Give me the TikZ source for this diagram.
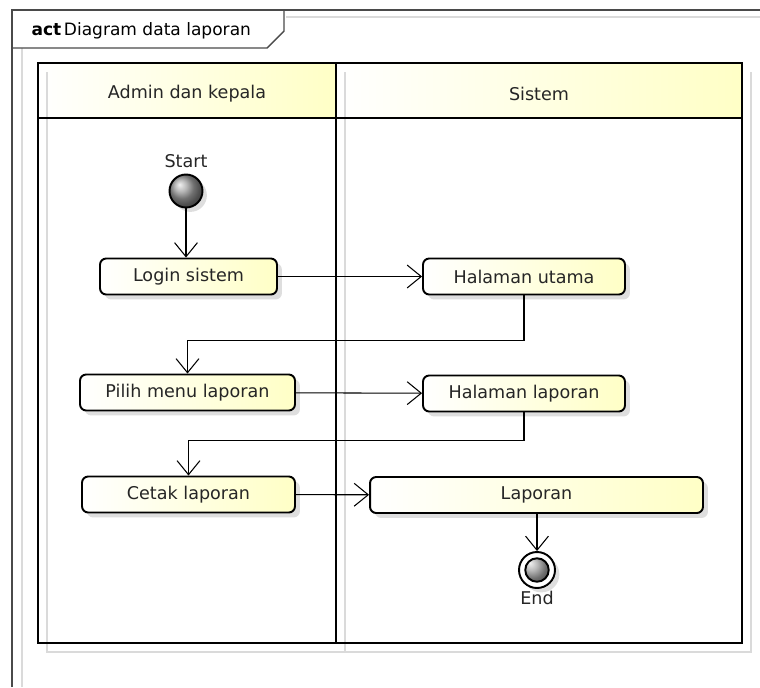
\documentclass[tikz,border=0pt]{standalone}
\usepackage{fontspec}
\setmainfont{DejaVu Sans}
\usepackage{tikz}
\usetikzlibrary{positioning,arrows.meta,shadows,shapes}

\definecolor{umlYellow}{HTML}{FFFFC6}
\definecolor{frameGray}{HTML}{4A4A4A}
\definecolor{shadowGray}{HTML}{DADADA}
\definecolor{textGray}{HTML}{262626}

\begin{document}
\begin{tikzpicture}[x=0.02cm, y=-0.02cm, line width=0.6pt, >={Straight Barb[length=8pt,width=13pt]},
    action/.style={draw, line width=1.1pt, rounded corners=3.5pt, minimum height=0.72cm,
        left color=white, right color=umlYellow, text=textGray,
        font=\fontsize{10}{12}\selectfont,
        drop shadow={shadow xshift=2.8pt, shadow yshift=-2.8pt, fill=black, opacity=0.13}},
    laneHead/.style={inner sep=0pt, text=textGray, font=\fontsize{10}{12}\selectfont},
    laneLine/.style={line width=1.5pt},
    laneShadow/.style={draw=shadowGray, line width=1.2pt},
    flow/.style={->, line width=0.6pt},
    startStyle/.style={circle, draw, line width=1.1pt, minimum size=0.66cm, inner sep=0pt,
        ball color=gray!75,
        drop shadow={shadow xshift=2.5pt, shadow yshift=-2.5pt, fill=black, opacity=0.13}},
    endStyle/.style={circle, draw, line width=1.1pt, minimum size=0.72cm, inner sep=0pt, fill=white,
        path picture={\shade[ball color=gray!75] (path picture bounding box.center) circle (0.235cm);
            \draw[line width=1.1pt] (path picture bounding box.center) circle (0.235cm);},
        drop shadow={shadow xshift=2.5pt, shadow yshift=-2.5pt, fill=black, opacity=0.13}},
    textLabel/.style={text=textGray, font=\fontsize{10}{12}\selectfont, inner sep=1pt}
]
    \useasboundingbox (0,0) rectangle (760,687);

    % frame
    \draw[shadowGray, line width=0.8pt] (22,687) -- (22,48);
    \draw[shadowGray, line width=0.8pt] (286,17) -- (760,17);
    \draw[frameGray, line width=0.8pt] (12,687) -- (12,10) -- (760,10);
    \draw[frameGray, line width=0.8pt] (12,48) -- (267,48) -- (284,31) -- (284,10);
    \node[anchor=west, text=black, font=\fontsize{9.7}{11}\selectfont, inner sep=0pt] (title) at (31,31)
        {\textbf{act}\hspace{1.5pt}Diagram data laporan};

    % swimlanes
    \shade[left color=white, right color=umlYellow] (38,63) rectangle (336,118);
    \shade[left color=white, right color=umlYellow] (336,63) rectangle (742,118);
    \draw[laneShadow] (47,72) -- (47,652) -- (751,652) -- (751,72);
    \draw[laneShadow] (345,72) -- (345,652);
    \draw[laneLine] (38,63) rectangle (336,643);
    \draw[laneLine] (336,63) rectangle (742,643);
    \draw[laneLine] (38,118) -- (742,118);
    \node[laneHead] (adminHead) at (187,94) {Admin dan kepala};
    \node[laneHead] (sistemHead) at (539,94) {Sistem};

    % nodes
    \node[startStyle] (startNode) at (186,191) {};
    \node[textLabel, above=2pt of startNode] (startLabel) {Start};
    \node[action, minimum width=3.54cm] (loginSistem) at (188.5,276.5) {Login sistem};
    \node[action, minimum width=4.04cm] (halUtama) at (524,276.5) {Halaman utama};
    \node[action, minimum width=4.3cm] (pilihMenu) at (187.5,392.5) {Pilih menu laporan};
    \node[action, minimum width=4.04cm] (halLaporan) at (524,393.5) {Halaman laporan};
    \node[action, minimum width=4.26cm] (cetakLaporan) at (188.5,494.5) {Cetak laporan};
    \node[action, minimum width=6.66cm] (laporan) at (536.5,495) {Laporan};
    \node[endStyle] (endNode) at (537,570) {};
    \node[textLabel, below=0pt of endNode] (endLabel) {End};

    % flows
    \draw[flow] (startNode) -- (startNode |- loginSistem.north);
    \draw[flow] (loginSistem) -- (halUtama);
    \draw[flow] (halUtama.south) -- ++(0,45) -| (pilihMenu.north);
    \draw[flow] (pilihMenu) -- (halLaporan);
    \draw[flow] (halLaporan.south) -- ++(0,28) -| (cetakLaporan.north);
    \draw[flow] (cetakLaporan) -- (laporan);
    \draw[flow] (laporan.south -| endNode) -- (endNode.north);
\end{tikzpicture}
\end{document}
